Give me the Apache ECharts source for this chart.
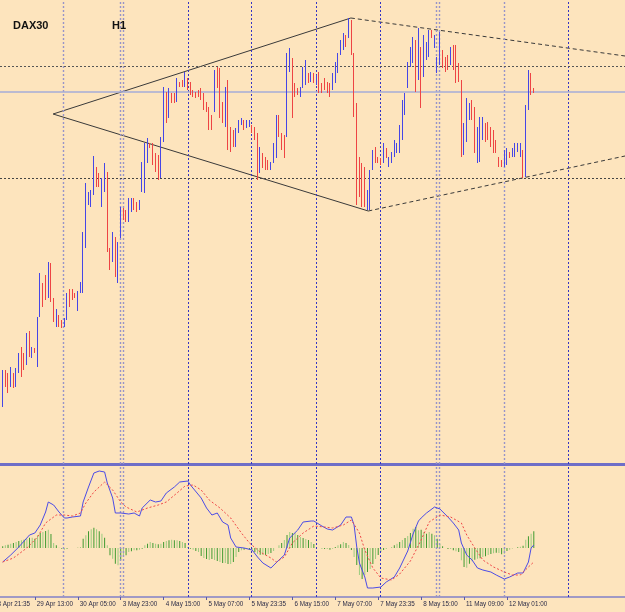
<!DOCTYPE html>
<html><head><meta charset="utf-8">
<script src="https://cdn.jsdelivr.net/npm/echarts@6/dist/echarts.min.js"></script>
<style>html,body{margin:0;padding:0;background:#fde4bd;}#c{width:625px;height:612px;}</style>
</head><body><div id="c"></div>
<script>
// ---- data (prices in index points, bar k = 0 .. 198) ----
const FIRST = -1;          // first category on the axis is bar -1
const LAST = 232;          // last category (empty future space)
const tickLabels = [
  [12,'29 Apr 13:00'],[28,'30 Apr 05:00'],[44,'3 May 23:00'],
  [60,'4 May 15:00'],[76,'5 May 07:00'],[92,'5 May 23:35'],[108,'6 May 15:00'],
  [124,'7 May 07:00'],[140,'7 May 23:35'],[156,'8 May 15:00'],[172,'11 May 09:00'],[188,'12 May 01:00']
];
const clippedLabel = [-4, '28 Apr 21:35'];   // lies left of the visible window
const opens = [
10596,10627,10616,10615,10625,10616,10630,10645,10640,10637,
10664,10645,10651,10648,10684,10715,10722,10704,10733,10700,
10679,10684,10678,10675,10681,10706,10708,10705,10700,10708,
10716,10765,10797,10799,10808,10830,10820,10800,10815,10826,
10750,10740,10760,10725,10764,10790,10786,10781,10792,10800,
10795,10791,10810,10832,10845,10857,10854,10842,10835,10826,
10860,10906,10884,10905,10902,10899,10917,10918,10915,10921,
10914,10908,10906,10908,10908,10903,10895,10890,10882,10890,
10928,10920,10893,10878,10912,10860,10866,10856,10869,10876,
10879,10873,10874,10874,10870,10863,10829,10846,10838,10836,
10832,10838,10850,10883,10866,10858,10866,10940,10940,10912,
10908,10905,10913,10922,10926,10920,10926,10918,10924,10914,
10918,10915,10912,10912,10922,10933,10946,10955,10963,10963,
10976,10945,10890,10838,10820,10812,10795,10800,10832,10848,
10842,10841,10838,10850,10836,10840,10845,10849,10852,10865,
10890,10914,10935,10945,10958,10922,10950,10925,10945,10950,
10968,10955,10930,10940,10948,10940,10942,10936,10952,10948,
10933,10918,10848,10866,10883,10897,10888,10845,10850,10865,
10876,10870,10868,10862,10855,10842,10838,10835,10840,10847,
10844,10846,10850,10845,10848,10826,10892,10922,10910];
const highs = [
10630,10630,10627,10633,10627,10632,10647,10653,10647,10667,
10669,10653,10652,10683,10727,10717,10725,10738,10737,10702,
10691,10685,10680,10682,10707,10711,10711,10707,10709,10718,
10768,10817,10808,10810,10844,10833,10827,10822,10837,10828,
10752,10768,10763,10758,10793,10792,10790,10802,10802,10802,
10798,10800,10838,10857,10862,10857,10857,10847,10845,10863,
10913,10908,10912,10907,10907,10922,10918,10920,10928,10922,
10918,10910,10908,10910,10912,10907,10898,10893,10885,10930,
10933,10932,10898,10913,10920,10873,10870,10872,10880,10882,
10880,10880,10880,10875,10873,10867,10853,10847,10843,10840,
10838,10857,10885,10885,10867,10865,10947,10952,10942,10917,
10912,10913,10933,10940,10927,10928,10927,10925,10928,10917,
10922,10918,10917,10927,10938,10947,10960,10967,10965,10982,
10980,10947,10897,10843,10837,10833,10810,10830,10850,10853,
10843,10842,10857,10852,10843,10848,10860,10857,10875,10900,
10907,10938,10953,10963,10960,10972,10953,10965,10958,10970,
10970,10965,10943,10968,10950,10943,10945,10953,10955,10955,
10937,10920,10877,10902,10897,10900,10893,10873,10883,10883,
10877,10878,10873,10870,10860,10843,10840,10850,10852,10848,
10852,10857,10857,10857,10850,10895,10930,10927,10912];
const lows = [
10593,10613,10607,10613,10612,10613,10627,10623,10630,10635,
10643,10642,10647,10633,10683,10693,10700,10702,10698,10678,
10673,10673,10672,10673,10680,10693,10700,10702,10689,10707,
10707,10752,10795,10793,10805,10813,10813,10793,10808,10748,
10730,10738,10723,10717,10762,10780,10778,10778,10788,10790,
10788,10790,10808,10807,10837,10852,10835,10828,10820,10822,
10858,10877,10882,10897,10897,10898,10913,10913,10913,10910,
10905,10903,10902,10903,10900,10890,10888,10870,10870,10888,
10912,10882,10877,10873,10850,10848,10853,10853,10867,10875,
10870,10872,10873,10867,10860,10820,10827,10832,10830,10830,
10830,10837,10842,10863,10850,10842,10863,10928,10882,10903,
10905,10903,10912,10915,10917,10918,10917,10915,10907,10907,
10910,10907,10903,10910,10917,10927,10945,10950,10953,10962,
10945,10883,10795,10803,10793,10793,10790,10790,10830,10837,
10837,10835,10837,10842,10833,10837,10843,10847,10847,10860,
10885,10912,10933,10937,10908,10920,10892,10923,10940,10943,
10962,10952,10927,10935,10932,10928,10930,10935,10930,10917,
10918,10843,10845,10858,10880,10880,10847,10837,10838,10860,
10858,10860,10853,10847,10847,10833,10833,10833,10835,10842,
10843,10843,10848,10843,10822,10823,10890,10905,10907];
const closes = [
10627,10616,10610,10630,10615,10630,10645,10628,10633,10664,
10646,10651,10648,10680,10722,10697,10703,10734,10700,10681,
10689,10676,10674,10680,10705,10696,10702,10703,10707,10716,
10765,10812,10806,10808,10840,10818,10815,10818,10834,10752,
10735,10762,10726,10755,10790,10783,10780,10799,10800,10793,
10790,10798,10835,10852,10858,10853,10840,10832,10824,10860,
10908,10882,10907,10899,10898,10918,10914,10915,10925,10912,
10907,10905,10904,10905,10902,10893,10890,10874,10873,10926,
10915,10886,10880,10910,10853,10850,10856,10869,10878,10880,
10873,10878,10879,10869,10862,10828,10850,10835,10832,10832,
10837,10855,10882,10866,10852,10845,10943,10949,10888,10905,
10906,10911,10930,10936,10919,10926,10919,10923,10910,10909,
10912,10909,10905,10925,10936,10945,10957,10964,10956,10978,
10948,10890,10800,10810,10798,10798,10806,10826,10846,10840,
10839,10837,10852,10844,10842,10846,10857,10855,10870,10895,
10904,10935,10950,10960,10915,10965,10900,10960,10955,10967,
10964,10962,10940,10965,10935,10932,10934,10950,10935,10920,
10922,10850,10872,10898,10894,10884,10850,10868,10878,10880,
10862,10864,10857,10850,10849,10836,10835,10847,10850,10844,
10850,10854,10855,10854,10826,10890,10925,10910,10908];
// MACD main line [bar, value]
const macdLine = [[0,-14],[3,-7],[6,1],[10,13],[12,15],[14,23],[16,36],[17,46],[19,43],[21,36],[23,30],[24,30],[26,31],[29,32],[30,46],[32,61],[34,75],[36,77],[38,76],[39,65],[41,50],[42,35],[44,35],[47,34],[49,35],[51,32],[52,40],[55,48],[57,46],[59,47],[61,55],[64,61],[66,66],[69,67],[70,63],[74,50],[76,40],[78,33],[80,35],[82,26],[84,23],[85,10],[87,1],[90,0],[93,-2],[95,-9],[97,-15],[100,-20],[103,-12],[105,-7],[107,10],[110,18],[112,26],[115,27],[116,27],[119,22],[121,19],[123,18],[126,23],[128,31],[130,31],[131,23],[132,1],[133,-15],[135,-29],[136,-40],[138,-40],[141,-39],[143,-34],[146,-29],[148,-20],[151,-3],[153,14],[155,27],[156,30],[158,35],[161,41],[163,39],[166,31],[168,25],[170,18],[171,5],[173,-7],[175,-12],[177,-20],[179,-22],[182,-24],[184,-27],[187,-31],[189,-29],[192,-25],[194,-25],[196,-14],[197,0],[198,3]];
// MACD signal line [bar, value]
const signalLine = [[0,-14],[4,-10],[9,0],[13,11],[16,25],[20,33],[23,33],[26,32],[29,35],[31,45],[34,56],[38,66],[41,58],[44,46],[46,41],[50,36],[54,40],[58,43],[61,46],[65,55],[68,62],[71,63],[74,58],[77,48],[81,40],[85,30],[89,15],[92,5],[96,-4],[100,-10],[102,-14],[105,-9],[108,5],[112,15],[116,22],[120,21],[123,20],[127,23],[130,28],[133,15],[135,-2],[138,-20],[141,-30],[145,-32],[148,-26],[152,-13],[156,8],[159,26],[163,33],[167,31],[171,25],[173,13],[176,0],[179,-12],[183,-19],[187,-24],[190,-27],[193,-27],[196,-19],[198,-14]];
// histogram per bar
const histogram = [
1.7,2.7,3.3,4.3,5,6,7,7.7,8.3,9.3,
10.3,10.3,9.3,12.7,15,16,17,18.3,14,5,
2.7,0.3,-0.7,-1.7,-0.7,0,0,0,0.3,1,
9.3,12.7,16.7,18.7,20.3,18.7,16.7,14.3,10.3,2.7,
-7.3,-10.7,-15.7,-17.3,-12.3,-9,-7.3,-4,-3.3,-2.3,
-2.3,-1.7,-0.7,2.7,4.3,6,5,4.3,3.7,4.3,
6,7,7.7,8.3,7.7,7.7,7,6,5,1,
-0.7,-1.7,-3,-4,-8,-10,-11,-12,-11,-12,
-13,-14,-15,-15,-16,-16,-14,-9,-4,-2.3,
-1.7,-1,-1.7,-2.3,-4,-5.7,-6.7,-7,-7,-6,
-5,-3,0,2.7,5,8,13,16,15,15,
13,11,10,9,8,6,4,1,0,-1,
-1,-1,-1.7,-0.7,1,2.7,3.7,6,5,3,
-2,-9,-17,-27,-31,-27,-24,-21,-16,-11,
-7,-4,-2,-1,0,1,2.7,4.3,6,8,
10,12,15,19.3,21,17.7,18.3,16,14.3,16,
14.3,12.7,9.3,4.3,1.7,0,-1,-1,-2.3,-3.3,
-4,-12.3,-19,-19.7,-15.7,-13.3,-11.7,-10.7,-10.3,-9,
-8.3,-7,-6,-5.3,-4.7,-5,-6.3,-5.7,-3,-1.7,
-0.3,0,0.7,1.3,2.3,8.3,11.7,14.3,16.7];
const levels = { upper: 10934, lower: 10822, bid: 10908 };
// day separators (bar position of each day start)
const daySepDark  = [69.27, 92.76, 116.99, 140.85, 210.94];
const daySepLight = [22.67, 43.92, 45.04, 161.73, 162.85, 187.08];
const diamondSolid = [[[18.8,10886],[129.8,10982]], [[18.8,10886],[136.3,10789]]];
const diamondDashed = [[[129.8,10982],[232,10944]], [[136.3,10789],[232,10844]]];

// ---- build ----
const cats = [];
for (let k = FIRST; k <= LAST; k++) cats.push(String(k));
const pos = k => k - FIRST;            // category index of bar k
const labelMap = {};
tickLabels.forEach(t => { labelMap[pos(t[0])] = t[1]; });
const candleData = opens.map((o, i) => [pos(i), o, closes[i], lows[i], highs[i]]);
const histData = histogram.map((v, i) => [pos(i), v]);
const sepMark = () => ({
  silent: true, symbol: 'none', animation: false,
  label: { show: false },
  data: daySepDark.map(k => ({ xAxis: k, lineStyle: { color: '#3434c4', width: 1, type: [2, 2] } }))
    .concat(daySepLight.map(k => ({ xAxis: k, lineStyle: { color: '#9894c8', width: 1.4, type: [2, 2] } })))
});

const chart = echarts.init(document.getElementById('c'), null, { renderer: 'canvas' });
const trendSeries = [];
diamondSolid.forEach(seg => trendSeries.push({
  type: 'line', xAxisIndex: 2, yAxisIndex: 0, data: seg, showSymbol: false, silent: true,
  lineStyle: { color: '#3a3a3a', width: 1 }, z: 4
}));
diamondDashed.forEach(seg => trendSeries.push({
  type: 'line', xAxisIndex: 2, yAxisIndex: 0, data: seg, showSymbol: false, silent: true,
  lineStyle: { color: '#3a3a3a', width: 1, type: [4, 3] }, z: 4
}));
trendSeries[0].markLine = sepMark();
trendSeries[1].markLine = {
  silent: true, symbol: 'none', animation: false, label: { show: false },
  data: [
    { yAxis: levels.upper, lineStyle: { color: '#555555', width: 1, type: [2, 2] } },
    { yAxis: levels.lower, lineStyle: { color: '#444444', width: 1, type: [2, 2] } },
    { yAxis: levels.bid, lineStyle: { color: '#a4acd8', width: 1.5, type: 'solid' } }
  ]
};
const W = 625;
const labelFont = '6.3px "Liberation Sans", Arial, sans-serif';

const option = {
  backgroundColor: '#fde4bd',
  animation: false,
  title: [
    { text: 'DAX30', left: 13, top: 20, padding: 0, textStyle: { fontSize: 11, fontWeight: 'bold', color: '#111', fontFamily: 'Liberation Sans' } },
    { text: 'H1', left: 112, top: 20, padding: 0, textStyle: { fontSize: 11, fontWeight: 'bold', color: '#111', fontFamily: 'Liberation Sans' } }
  ],
  grid: [
    { left: 0, right: 0, top: 0, height: 464, outerBoundsMode: 'none' },
    { left: 0, right: 0, top: 466, height: 131, outerBoundsMode: 'none' }
  ],
  xAxis: [
    { type: 'category', gridIndex: 0, data: cats, boundaryGap: false,
      axisLine: { show: true, onZero: false, lineStyle: { color: '#6e6ec8', width: 3 } },
      axisTick: { show: false }, axisLabel: { show: false }, splitLine: { show: false } },
    { type: 'category', gridIndex: 1, data: cats, boundaryGap: false,
      axisLine: { show: true, onZero: false, lineStyle: { color: '#8080c8', width: 1.5 } },
      axisTick: { show: true, length: 3, interval: i => labelMap[i] !== undefined, lineStyle: { color: '#5a5aa8' } },
      axisLabel: { show: true, interval: i => labelMap[i] !== undefined, formatter: (v, i) => labelMap[i] || '',
        align: 'left', padding: [0, 0, 0, 2], margin: 4, fontSize: 6.3, color: '#2c2c48', fontFamily: 'Liberation Sans' },
      splitLine: { show: false } },
    { type: 'value', gridIndex: 0, min: FIRST, max: LAST, show: false },
    { type: 'value', gridIndex: 1, min: FIRST, max: LAST, show: false }
  ],
  yAxis: [
    { type: 'value', gridIndex: 0, min: 10536, max: 11000, show: false },
    { type: 'value', gridIndex: 1, min: -49, max: 82, show: false }
  ],
  graphic: [
    { type: 'text', x: (clippedLabel[0] - FIRST) * W / (LAST - FIRST) + 2, y: 601, silent: true,
      style: { text: clippedLabel[1], font: labelFont, fill: '#2c2c48', textVerticalAlign: 'top' } }
  ],
  series: [
    { type: 'candlestick', xAxisIndex: 0, yAxisIndex: 0, data: candleData,
      encode: { x: 0, y: [1, 2, 3, 4] }, barWidth: 1.2, z: 5,
      itemStyle: { color: '#4646e6', color0: '#ee4444', borderColor: '#4646e6', borderColor0: '#ee4444', borderWidth: 1 } },
    ...trendSeries,
    { type: 'bar', xAxisIndex: 1, yAxisIndex: 1, data: histData, barWidth: 1, z: 3,
      itemStyle: { color: p => (p.dataIndex % 2 ? '#9ccd80' : '#3f9a30') } },
    { type: 'line', xAxisIndex: 3, yAxisIndex: 1, data: macdLine, showSymbol: false, silent: true,
      lineStyle: { color: '#4c4ce6', width: 1 }, z: 5, markLine: sepMark() },
    { type: 'line', xAxisIndex: 3, yAxisIndex: 1, data: signalLine, showSymbol: false, silent: true,
      lineStyle: { color: '#f04848', width: 1, type: [2, 2] }, z: 5 }
  ]
};
chart.setOption(option);
</script>
</body></html>
